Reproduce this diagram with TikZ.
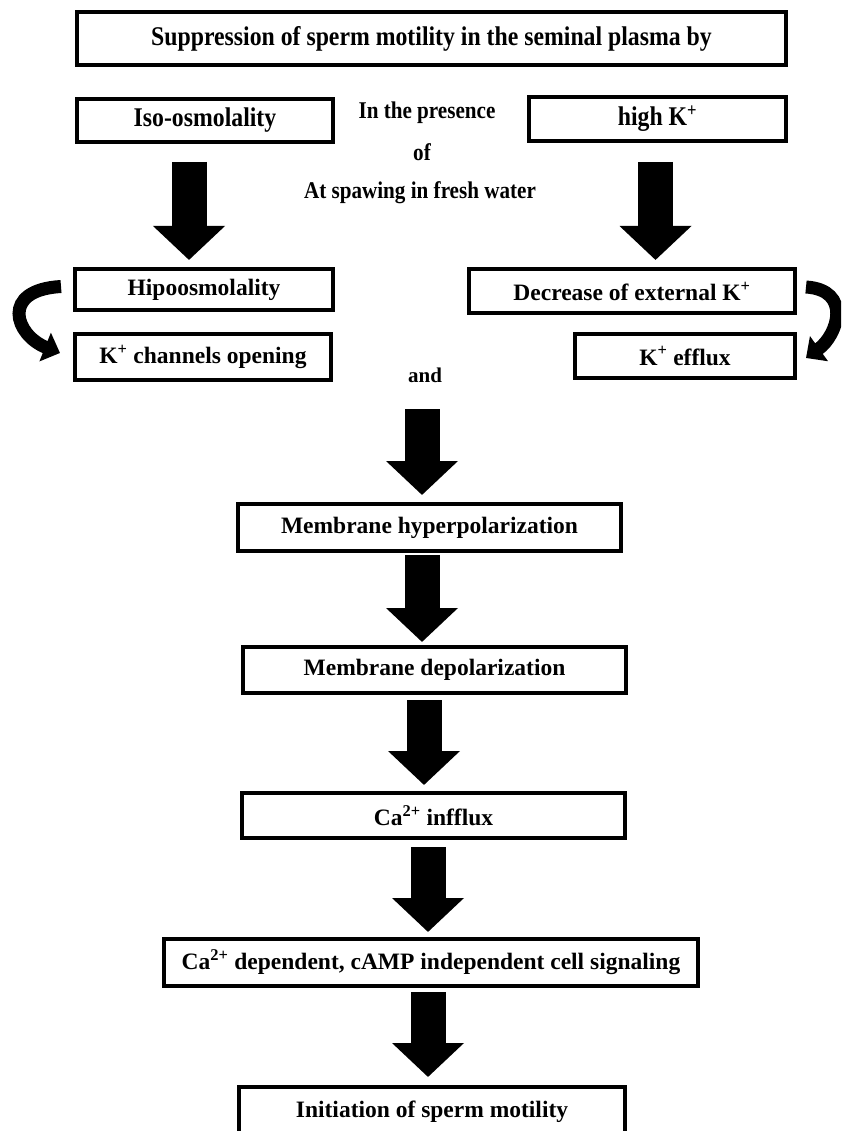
\documentclass[tikz,border=0pt]{standalone}
\usepackage{fontspec}
\setmainfont{Liberation Serif}
\usepackage{graphicx}
\usetikzlibrary{arrows.meta,calc}

\newcommand{\condtext}[1]{\scalebox{0.88}[1]{#1}}

\begin{document}
\begin{tikzpicture}[
    x=1pt, y=-1pt,
    box/.style={rectangle, draw, line width=4pt, inner sep=0pt, font=\fontsize{23.5}{26}\selectfont\bfseries},
    topbox/.style={box, font=\fontsize{27}{30}\selectfont\bfseries},
    note/.style={inner sep=0pt, font=\fontsize{24}{26}\selectfont\bfseries},
    bigarrow/.style={line width=35pt, -{Triangle[length=34pt, width=70pt]}},
    curvearrow/.style={line width=13pt, -{Triangle[length=16pt, width=30pt]}}
]
    \useasboundingbox (0,0) rectangle (841,1131);
    \clip (0,0) rectangle (841,1131);

    % Top row
    \node[topbox, minimum width=709, minimum height=53] (top) at (431.5,38.5)
        {\condtext{Suppression of sperm motility in the seminal plasma by}};
    \node[topbox, minimum width=256, minimum height=43] (iso) at (205,120.5)
        {\condtext{Iso-osmolality}};
    \node[topbox, minimum width=257, minimum height=44] (highk) at (657.5,119)
        {\condtext{high K\textsuperscript{+}}};

    % Conditions in between
    \node[note] (pres) at (427,113) {\condtext{In the presence}};
    \node[note] (of) at (422,152) {\condtext{of}};
    \node[note] (spaw) at (420,193) {\condtext{At spawing in fresh water}};

    % Left branch
    \node[box, minimum width=258, minimum height=41] (hipo) at (204,289.5) {Hipoosmolality};
    \node[box, minimum width=256, minimum height=46] (kch) at (203,357) {K\textsuperscript{+} channels opening};

    % Right branch
    \node[box, minimum width=326, minimum height=44] (dec) at (632,291) {Decrease of external K\textsuperscript{+}};
    \node[box, minimum width=220, minimum height=44] (kefl) at (685,356) {K\textsuperscript{+} efflux};

    \node[note, font=\fontsize{21}{24}\selectfont\bfseries] (andlbl) at (425,375) {and};

    % Main chain
    \node[box, minimum width=383, minimum height=47] (hyper) at (429.5,527.5) {Membrane hyperpolarization};
    \node[box, minimum width=383, minimum height=46] (depol) at (434.5,670) {Membrane depolarization};
    \node[box, minimum width=383, minimum height=45] (caflux) at (433.5,815.5) {Ca\textsuperscript{2+} infflux};
    \node[box, minimum width=534, minimum height=47] (casig) at (431,962.5)
        {Ca\textsuperscript{2+} dependent, cAMP independent cell signaling};
    \node[box, minimum width=386, minimum height=50] (init) at (432,1112) {Initiation of sperm motility};

    % Block arrows
    \draw[bigarrow] ($(iso.south)+(-16,18)$) -- ($(hipo.north)+(-15,-7)$);
    \draw[bigarrow] ($(highk.south)+(-2,19)$) -- ($(dec.north)+(23.5,-7)$);
    \draw[bigarrow] ($(hyper.north)+(-7.5,-93)$) -- ($(hyper.north)+(-7.5,-7)$);
    \draw[bigarrow] ($(hyper.south)+(-7.5,2)$) -- ($(depol.north)+(-12.5,-3)$);
    \draw[bigarrow] ($(depol.south)+(-10.5,5)$) -- ($(caflux.north)+(-9.5,-6)$);
    \draw[bigarrow] ($(caflux.south)+(-5.5,7)$) -- ($(casig.north)+(-3,-5)$);
    \draw[bigarrow] ($(casig.south)+(-3,4)$) -- ($(init.north)+(-4,-8)$);

    % Curved arrows
    \draw[curvearrow] ($(hipo.west)+(-12,-3)$) .. controls (0,290) and (15,335) .. ($(kch.west)+(-13,-4)$);
    \draw[curvearrow] ($(dec.east)+(9,-4)$) .. controls (852,290) and (838,335) .. ($(kefl.east)+(9,2)$);

\end{tikzpicture}
\end{document}
